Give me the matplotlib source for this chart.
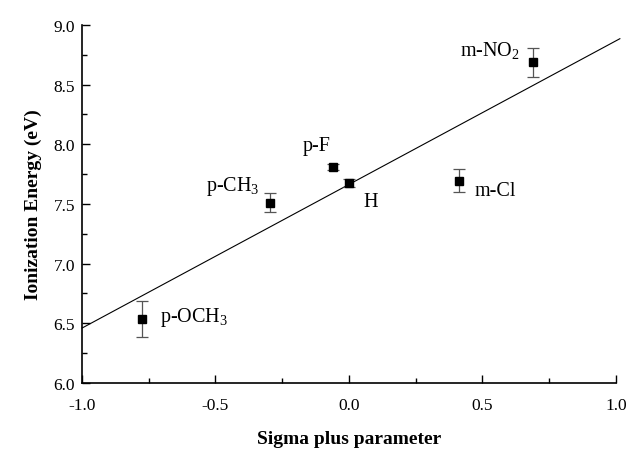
import matplotlib
matplotlib.use("Agg")
import matplotlib.pyplot as plt
import numpy as np

# Data
substituents = ["p-OCH$_3$", "p-CH$_3$", "p-F", "H", "m-Cl", "m-NO$_2$"]
sigma_plus = [-0.776, -0.297, -0.058, 0.0, 0.413, 0.688]
ion_energy = [6.536, 7.509, 7.813, 7.676, 7.696, 8.688]
ion_err = [0.15, 0.08, 0.025, 0.03, 0.095, 0.12]
fit_x = [-1.0, 1.015]
fit_y = [6.46, 8.885]
label_x = [-0.708, -0.535, -0.175, 0.056, 0.472, 0.415]
label_y = [6.553, 7.654, 7.99, 7.52, 7.61, 8.785]
xticks = [-1.0, -0.5, 0.0, 0.5, 1.0]
yticks = [6.0, 6.5, 7.0, 7.5, 8.0, 8.5, 9.0]

plt.rcParams['font.family'] = ['Liberation Serif', 'DejaVu Serif']
plt.rcParams['mathtext.fontset'] = 'custom'
plt.rcParams['mathtext.rm'] = 'Liberation Serif'

fig = plt.figure(figsize=(6.31, 4.56), dpi=100)
ax = fig.add_axes([0.130, 0.158, 0.846, 0.785])

ax.plot(fit_x, fit_y, color='black', linewidth=0.8, clip_on=False, zorder=2)
ax.errorbar(sigma_plus, ion_energy, yerr=ion_err, fmt='s', color='black',
            markersize=6, ecolor='#555555', elinewidth=0.9, capsize=4,
            capthick=0.9, zorder=3)

for name, lx, ly in zip(substituents, label_x, label_y):
    ax.text(lx, ly, name, fontsize=14.5, ha='left', va='center')

ax.set_xlim(-1.0, 1.0)
ax.set_ylim(6.0, 9.0)
ax.set_xticks(xticks)
ax.set_yticks(yticks)
ax.set_xticklabels([f"{v:.1f}" for v in xticks])
ax.set_yticklabels([f"{v:.1f}" for v in yticks])
ax.set_xticks(np.arange(-0.75, 1.0, 0.5), minor=True)
ax.set_yticks(np.arange(6.25, 9.0, 0.5), minor=True)
ax.tick_params(which='both', direction='in', labelsize=12.5, width=1.0)
ax.tick_params(which='major', length=6)
ax.tick_params(which='minor', length=3.5)
ax.tick_params(axis='x', which='major', pad=10)
ax.tick_params(axis='y', which='major', pad=5)
ax.spines['top'].set_visible(False)
ax.spines['right'].set_visible(False)
ax.spines['left'].set_linewidth(1.2)
ax.spines['bottom'].set_linewidth(1.2)

ax.set_xlabel("Sigma plus parameter", fontsize=14, fontweight='bold', labelpad=12)
ax.set_ylabel("Ionization Energy (eV)", fontsize=14, fontweight='bold', labelpad=8)

fig.savefig("out.png", dpi=100)
